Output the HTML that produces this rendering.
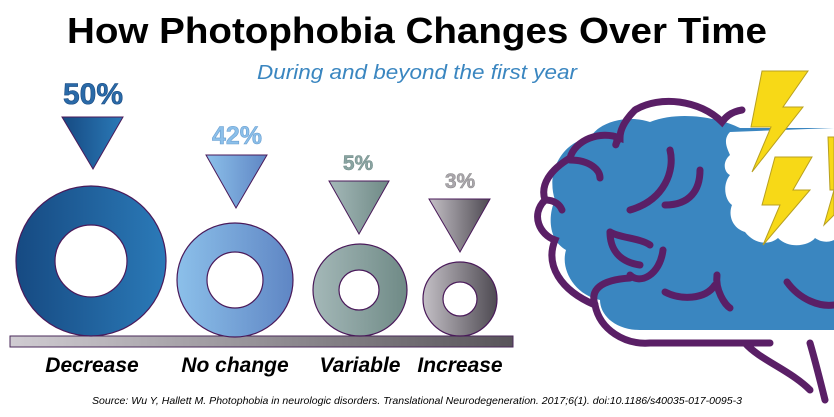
<!DOCTYPE html>
<html><head><meta charset="utf-8"><style>
html,body{margin:0;padding:0;background:#fff;}
svg{display:block;font-family:"Liberation Sans",sans-serif;}
</style></head><body>
<svg width="834" height="417" viewBox="0 0 834 417" xmlns="http://www.w3.org/2000/svg">
<defs>
<linearGradient id="g1" x1="0" x2="1"><stop offset="0" stop-color="#164a82"/><stop offset="1" stop-color="#2b7ab8"/></linearGradient>
<linearGradient id="g2" x1="0" x2="1"><stop offset="0" stop-color="#8cc0ea"/><stop offset="1" stop-color="#5f86c4"/></linearGradient>
<linearGradient id="g3" x1="0" x2="1"><stop offset="0" stop-color="#a4b8b8"/><stop offset="1" stop-color="#6f8a86"/></linearGradient>
<linearGradient id="g4" x1="0" x2="1"><stop offset="0" stop-color="#c4c0c6"/><stop offset="1" stop-color="#4e4a52"/></linearGradient>
<linearGradient id="gb" x1="0" x2="1"><stop offset="0" stop-color="#d0ccd2"/><stop offset="1" stop-color="#58545a"/></linearGradient>
</defs>
<text x="417" y="43" text-anchor="middle" font-size="36" font-weight="bold" fill="#000" textLength="700" lengthAdjust="spacingAndGlyphs">How Photophobia Changes Over Time</text>
<text x="417" y="79" text-anchor="middle" font-size="20" font-style="italic" fill="#3a86c0" textLength="320" lengthAdjust="spacingAndGlyphs">During and beyond the first year</text>

<!-- bar -->
<rect x="10" y="336" width="503" height="11" fill="url(#gb)" stroke="#4a2a5a" stroke-width="1"/>

<!-- donuts -->
<path d="M16,261a75,75 0 1,0 150,0a75,75 0 1,0 -150,0ZM55,261a36,36 0 1,1 72,0a36,36 0 1,1 -72,0Z" fill="url(#g1)" fill-rule="evenodd" stroke="#4a1a5a" stroke-width="1.2"/>
<path d="M177,280a58,57 0 1,0 116,0a58,57 0 1,0 -116,0ZM207,280a28,28 0 1,1 56,0a28,28 0 1,1 -56,0Z" fill="url(#g2)" fill-rule="evenodd" stroke="#4a1a5a" stroke-width="1.2"/>
<path d="M313,290a47,46 0 1,0 94,0a47,46 0 1,0 -94,0ZM339,290a20,20 0 1,1 40,0a20,20 0 1,1 -40,0Z" fill="url(#g3)" fill-rule="evenodd" stroke="#4a1a5a" stroke-width="1.2"/>
<path d="M423,299a37,37 0 1,0 74,0a37,37 0 1,0 -74,0ZM443,299a17,17 0 1,1 34,0a17,17 0 1,1 -34,0Z" fill="url(#g4)" fill-rule="evenodd" stroke="#4a1a5a" stroke-width="1.2"/>

<!-- triangles -->
<polygon points="62,117 123,117 93,169" fill="url(#g1)" stroke="#4a1a5a" stroke-width="1"/>
<polygon points="206,155 267,155 236,208" fill="url(#g2)" stroke="#4a1a5a" stroke-width="1"/>
<polygon points="329,181 389,181 359,234" fill="url(#g3)" stroke="#4a1a5a" stroke-width="1"/>
<polygon points="429,199 490,199 460,252" fill="url(#g4)" stroke="#4a1a5a" stroke-width="1"/>

<!-- percents -->
<text x="93" y="104" text-anchor="middle" font-size="30" font-weight="bold" fill="#2a6aa8" stroke="#1a4a80" stroke-width="0.6">50%</text>
<text x="237" y="144" text-anchor="middle" font-size="25" font-weight="bold" fill="#8cc0ea" stroke="#6a9ed0" stroke-width="0.6">42%</text>
<text x="358" y="170" text-anchor="middle" font-size="21" font-weight="bold" fill="#8aa4a2" stroke="#6f8a86" stroke-width="0.5">5%</text>
<text x="460" y="188" text-anchor="middle" font-size="21" font-weight="bold" fill="#aaa6ac" stroke="#888" stroke-width="0.5">3%</text>

<!-- categories -->
<g font-size="21" font-weight="bold" font-style="italic" fill="#000" text-anchor="middle">
<text x="92" y="372">Decrease</text>
<text x="235" y="372">No change</text>
<text x="360" y="372">Variable</text>
<text x="460" y="372">Increase</text>
</g>

<text x="417" y="404" text-anchor="middle" font-size="10.5" font-style="italic" fill="#000" textLength="650" lengthAdjust="spacingAndGlyphs">Source: Wu Y, Hallett M. Photophobia in neurologic disorders. Translational Neurodegeneration. 2017;6(1). doi:10.1186/s40035-017-0095-3</text>

<!-- brain -->
<path d="M555,200 C545,170 565,140 590,138 C600,120 630,115 650,122 C680,110 720,118 740,128 L834,128 L834,330 L640,330 C615,330 600,315 600,300 C575,295 560,270 566,250 C548,240 548,215 555,200Z" fill="#3a86c0"/>
<!-- white cloud -->
<path d="M730,132 C722,140 728,150 730,155 C722,162 724,172 730,175 C722,185 725,200 732,205 C728,215 732,228 745,232 C755,245 770,245 778,238 C790,250 810,245 815,238 C825,245 834,240 834,240 L834,128 Z" fill="#fff"/>
<g fill="none" stroke="#5a1f66" stroke-width="7" stroke-linecap="round">
<path d="M742,110 C730,112 725,118 722,122 C700,100 660,95 635,110 C620,125 620,135 620,138 C600,130 575,140 570,158 C550,170 540,185 545,200 C530,215 540,235 555,240 C545,265 560,290 595,305 C600,330 625,345 650,343 L770,343"/>
<path d="M620,138 C615,142 615,150 617,140"/>
<path d="M570,160 C590,160 600,170 600,178"/>
<path d="M545,200 C555,200 560,205 562,210"/>
<path d="M595,305 C590,290 600,280 630,278"/>
<path d="M670,150 C675,170 665,200 630,210"/>
<path d="M700,170 C700,190 690,205 665,205"/>
<path d="M610,232 C620,238 640,238 650,245"/>
<path d="M610,232 C610,250 620,262 640,265"/>
<path d="M663,250 C660,275 640,285 630,275"/>
<path d="M665,292 C680,300 705,300 715,285"/>
<path d="M717,275 C715,290 725,305 730,308"/>
<path d="M787,282 C800,300 820,307 834,305"/>
<path d="M745,343 C760,360 790,370 810,390"/>
<path d="M810,343 C815,360 820,380 825,400"/>
</g>
<!-- bolts -->
<g fill="#f7d917" stroke="#b8a020" stroke-width="1">
<polygon points="762,71 808,71 783,107 803,107 752,172 771,127 751,127"/>
<polygon points="775,157 812,157 793,190 810,190 763,245 780,205 762,205"/>
<polygon points="828,137 834,137 834,215 824,225 834,190 830,190"/>
</g>
</svg>
</body></html>
